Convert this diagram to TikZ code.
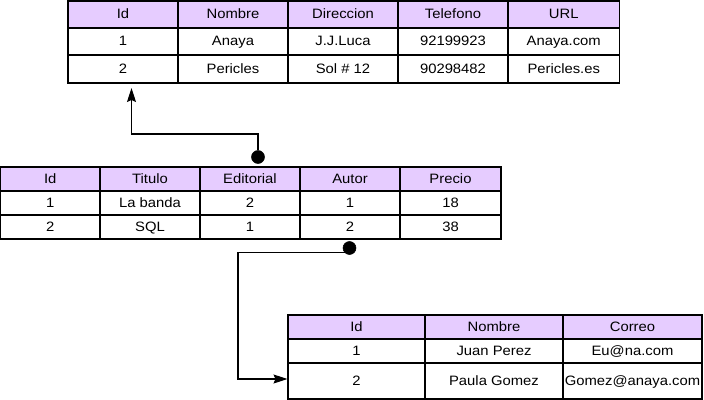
\documentclass[tikz,border=0pt]{standalone}
\usepackage{fontspec}
\setmainfont{Liberation Sans}[FakeStretch=1.09]
\usetikzlibrary{arrows.meta}
\definecolor{hdr}{HTML}{E6CCFF}
\newcommand\tcell[7]{\node[#6, minimum width={(#4-#2)*0.75pt}, minimum height={(#5-#3)*0.75pt}] (#1) at ({(#2+#4)/2},{(#3+#5)/2}) {#7};}
\tikzset{
  cell/.style={draw=black, line width=0.85pt, inner sep=0pt, outer sep=0pt, fill=white,
               font=\fontsize{10.2}{12}\selectfont, text=black,
               text height=7.3pt, text depth=0.6pt},
  head/.style={cell, fill=hdr},
  dot/.style={circle, fill=black, draw=black, minimum size=9.75pt, inner sep=0pt},
  link/.style={draw=black, line width=0.85pt,
               -{Stealth[length=10.5pt, width=6.75pt, inset=1.5pt]}},
}
\begin{document}
\begin{tikzpicture}[x=0.75pt,y=-0.75pt]
\useasboundingbox (0,0) rectangle (704,400);
% Table 1
\tcell{t1-0-1}{68}{1}{178}{28}{head}{Id}
\tcell{t1-0-2}{178}{1}{288}{28}{head}{Nombre}
\tcell{t1-0-3}{288}{1}{398}{28}{head}{Direccion}
\tcell{t1-0-4}{398}{1}{508}{28}{head}{Telefono}
\tcell{t1-0-5}{508}{1}{619.5}{28}{head}{URL}
\tcell{t1-1-1}{68}{28}{178}{55}{cell}{1}
\tcell{t1-1-2}{178}{28}{288}{55}{cell}{Anaya}
\tcell{t1-1-3}{288}{28}{398}{55}{cell}{J.J.Luca}
\tcell{t1-1-4}{398}{28}{508}{55}{cell}{92199923}
\tcell{t1-1-5}{508}{28}{619.5}{55}{cell}{Anaya.com}
\tcell{t1-2-1}{68}{55}{178}{83}{cell}{2}
\tcell{t1-2-2}{178}{55}{288}{83}{cell}{Pericles}
\tcell{t1-2-3}{288}{55}{398}{83}{cell}{Sol \# 12}
\tcell{t1-2-4}{398}{55}{508}{83}{cell}{90298482}
\tcell{t1-2-5}{508}{55}{619.5}{83}{cell}{Pericles.es}
% Table 2
\tcell{t2-0-1}{0.6}{167}{100}{191}{head}{Id}
\tcell{t2-0-2}{100}{167}{200}{191}{head}{Titulo}
\tcell{t2-0-3}{200}{167}{300}{191}{head}{Editorial}
\tcell{t2-0-4}{300}{167}{400}{191}{head}{Autor}
\tcell{t2-0-5}{400}{167}{501}{191}{head}{Precio}
\tcell{t2-1-1}{0.6}{191}{100}{215}{cell}{1}
\tcell{t2-1-2}{100}{191}{200}{215}{cell}{La banda}
\tcell{t2-1-3}{200}{191}{300}{215}{cell}{2}
\tcell{t2-1-4}{300}{191}{400}{215}{cell}{1}
\tcell{t2-1-5}{400}{191}{501}{215}{cell}{18}
\tcell{t2-2-1}{0.6}{215}{100}{239}{cell}{2}
\tcell{t2-2-2}{100}{215}{200}{239}{cell}{SQL}
\tcell{t2-2-3}{200}{215}{300}{239}{cell}{1}
\tcell{t2-2-4}{300}{215}{400}{239}{cell}{2}
\tcell{t2-2-5}{400}{215}{501}{239}{cell}{38}
% Table 3
\tcell{t3-0-1}{288}{315}{425}{339}{head}{Id}
\tcell{t3-0-2}{425}{315}{563}{339}{head}{Nombre}
\tcell{t3-0-3}{563}{315}{702}{339}{head}{Correo}
\tcell{t3-1-1}{288}{339}{425}{363}{cell}{1}
\tcell{t3-1-2}{425}{339}{563}{363}{cell}{Juan Perez}
\tcell{t3-1-3}{563}{339}{702}{363}{cell}{Eu@na.com}
\tcell{t3-2-1}{288}{363}{425}{399}{cell}{2}
\tcell{t3-2-2}{425}{363}{563}{399}{cell}{Paula Gomez}
\tcell{t3-2-3}{563}{363}{702}{399}{cell}{Gomez@anaya.com}
% Connectors
\node[dot] (d1) at (258,157) {};
\node[dot] (d2) at (349.5,248) {};
\coordinate (b1) at (131.5,134);
\coordinate (a1) at (131.5,88);
\coordinate (b2) at (238,300);
\coordinate (a2) at (287.5,379);
\draw[link] (d1) |- (b1) -- (a1);
\draw[link] (d2.south west) -| (b2) |- (a2);
\end{tikzpicture}
\end{document}
